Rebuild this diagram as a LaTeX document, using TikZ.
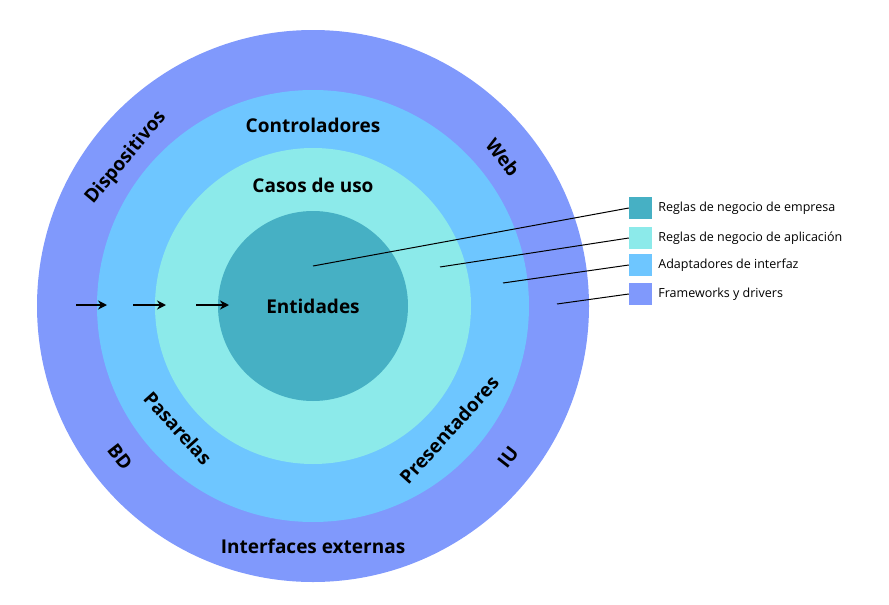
\documentclass[tikz,border=0pt]{standalone}
\usepackage{fontspec}
\setmainfont{Open Sans}
\usetikzlibrary{arrows.meta, positioning}
\definecolor{ringframe}{RGB}{128,153,252}
\definecolor{ringadapt}{RGB}{110,198,255}
\definecolor{ringcase}{RGB}{140,234,234}
\definecolor{ringcore}{RGB}{70,176,196}

\begin{document}
\begin{tikzpicture}[x=1pt, y=-1pt,
    ringlabel/.style={font=\fontsize{19}{22}\selectfont\bfseries, black, inner sep=1pt},
    legbox/.style={minimum width=23pt, minimum height=22pt, inner sep=0pt},
    legtext/.style={font=\fontsize{12.5}{14}\selectfont, black, anchor=west, inner sep=0pt},
    flow/.style={-{Stealth[length=9pt, width=9pt]}, line width=2.6pt}]
        \useasboundingbox (0,0) rectangle (889,605);
        % Rings, from outside in
        \fill[ringframe] (313,306) circle (276);
        \fill[ringadapt] (313,306) circle (216);
        \fill[ringcase] (313,306) circle (158);
        \fill[ringcore] (313,306) circle (95);
        % Ring labels
        \node[ringlabel] (ent) at (313,306) {Entidades};
        \node[ringlabel] (cas) at (313,185) {Casos de uso};
        \node[ringlabel] (con) at (313,125) {Controladores};
        \node[ringlabel, rotate=48] (pre) at (449,430) {Presentadores};
        \node[ringlabel, rotate=-48] (pas) at (178,428) {Pasarelas};
        \node[ringlabel] (ext) at (313,546) {Interfaces externas};
        \node[ringlabel, rotate=50] (dis) at (126,158) {Dispositivos};
        \node[ringlabel, rotate=-52] (web) at (503,157) {Web};
        \node[ringlabel, rotate=-52] (bd) at (120,457) {BD};
        \node[ringlabel, rotate=52] (iu) at (508,457) {IU};
        % Flow arrows
        \coordinate (a0) at (76,305);  \coordinate (a1) at (107,305);
        \coordinate (b0) at (133,305); \coordinate (b1) at (166,305);
        \coordinate (c0) at (196,305); \coordinate (c1) at (229,305);
        \draw[flow] (a0) -- (a1);
        \draw[flow] (b0) -- (b1);
        \draw[flow] (c0) -- (c1);
        % Legend
        \node[legbox, fill=ringcore] (lcore) at (640.5,208) {};
        \node[legbox, fill=ringcase] (lcase) at (640.5,238) {};
        \node[legbox, fill=ringadapt] (ladapt) at (640.5,265) {};
        \node[legbox, fill=ringframe] (lframe) at (640.5,294) {};
        \node[legtext, right=6pt of lcore] {Reglas de negocio de empresa};
        \node[legtext, right=6pt of lcase] {Reglas de negocio de aplicación};
        \node[legtext, right=6pt of ladapt] {Adaptadores de interfaz};
        \node[legtext, right=6pt of lframe] {Frameworks y drivers};
        % Legend pointers
        \coordinate (pcore) at (313,266);
        \coordinate (pcase) at (440,267);
        \coordinate (padapt) at (503,283);
        \coordinate (pframe) at (557,304);
        \draw[line width=1pt] (pcore) -- (lcore.west);
        \draw[line width=1pt] (pcase) -- (lcase.west);
        \draw[line width=1pt] (padapt) -- (ladapt.west);
        \draw[line width=1pt] (pframe) -- (lframe.west);
      \end{tikzpicture}
\end{document}
